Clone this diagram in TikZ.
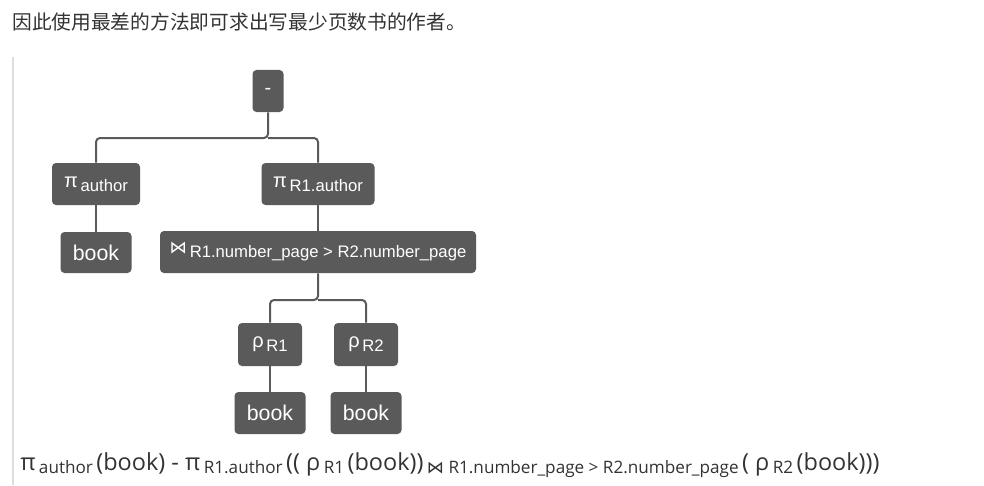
\documentclass[tikz,border=0pt]{standalone}
\usepackage{fontspec}
\setmainfont{Liberation Sans}
\newfontfamily\cjkf{Noto Sans CJK SC}
\newfontfamily\symf{DejaVu Sans}
\newfontfamily\formf{Open Sans}
\definecolor{ngray}{HTML}{5A5A5A}
\definecolor{txtgray}{HTML}{333333}
\definecolor{rulegray}{HTML}{DDDDDD}
\newcommand\opbig[1]{{\fontsize{15}{15}\selectfont #1}}
\newcommand\opsub[1]{\raisebox{-3pt}{\fontsize{12.5}{12.5}\selectfont #1}}
\newcommand\fbig[1]{{\fontsize{17.6}{17.6}\selectfont #1}}
\newcommand\fsub[1]{\raisebox{-2.5pt}{\fontsize{12.85}{12.85}\selectfont #1}}
\begin{document}
\begin{tikzpicture}[x=0.75pt,y=-0.75pt,
  box/.style={fill=ngray, rounded corners=3pt, text=white, inner sep=0pt,
    minimum height=31.5pt, font=\fontsize{12.5}{14}\selectfont},
  edge/.style={draw=ngray, line width=1.5pt, rounded corners=3pt}]
\useasboundingbox (0,0) rectangle (984,485);
\fill[white] (0,0) rectangle (984,485);
% heading
\node[anchor=west, inner sep=0pt, text=txtgray, font=\cjkf\fontsize{14.8}{16}\selectfont] (head) at (12,22) {因此使用最差的方法即可求出写最少页数书的作者。};
% quote rule
\fill[rulegray] (12,57) rectangle (14,485);
% nodes
\node[box, minimum width=23.25pt] (minus) at (268,91) {\opbig{-}};
\node[box, minimum width=66pt] (pa) at (96,184) {\opbig{π}\,\opsub{author}};
\node[box, minimum width=84.75pt] (pr) at (318,184) {\opbig{π}\,\opsub{R1.author}};
\node[box, minimum width=53.25pt, minimum height=30.75pt] (b0) at (96,252.5) {\fontsize{16}{16}\selectfont book};
\node[box, minimum width=237pt] (join) at (318,252) {{\symf\fontsize{13}{13}\selectfont ⋈}\,\raisebox{-3pt}{R1.number\_page > R2.number\_page}};
\node[box, minimum width=48pt, minimum height=32.25pt] (r1) at (270,344.5) {\opbig{ρ}\,\opsub{R1}};
\node[box, minimum width=48pt, minimum height=32.25pt] (r2) at (366,344.5) {\opbig{ρ}\,\opsub{R2}};
\node[box, minimum width=53.25pt] (b1) at (270,413) {\fontsize{16}{16}\selectfont book};
\node[box, minimum width=53.25pt] (b2) at (366,413) {\fontsize{16}{16}\selectfont book};
% connectors
\coordinate (t1) at (268,138);
\coordinate (t2) at (318,300);
\draw[edge] (minus.south) -- (t1) -| (pa.north);
\draw[edge] (t1) -| (pr.north);
\draw[edge] (pa.south) -- (b0.north);
\draw[edge] (pr.south) -- (join.north);
\draw[edge] (join.south) -- (t2) -| (r1.north);
\draw[edge] (t2) -| (r2.north);
\draw[edge] (r1.south) -- (b1.north);
\draw[edge] (r2.south) -- (b2.north);
% formula
\node[anchor=base west, inner sep=0pt, text=txtgray, font=\formf] (formula) at (20,470)
 {\fbig{π} \fsub{author} \fbig{(book) - π} \fsub{R1.author} \fbig{(( ρ} \fsub{R1} \fbig{(book))} \fsub{{\symf ⋈} R1.number\_page > R2.number\_page} \fbig{( ρ} \fsub{R2} \fbig{(book)))}};
\end{tikzpicture}
\end{document}
